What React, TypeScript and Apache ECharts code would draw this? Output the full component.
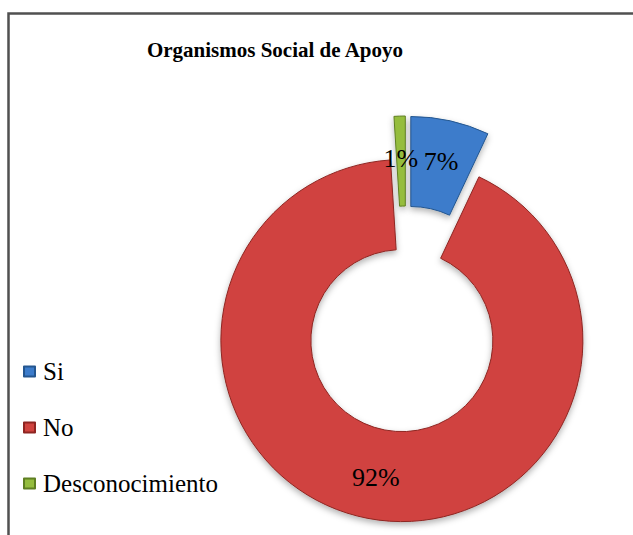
import React, { useEffect, useRef } from "react";
import * as echarts from "echarts";

const titleText = "Organismos Social de Apoyo";
const categories = ["Si", "No", "Desconocimiento"];
const values = [7, 92, 1];
const colors = ["#3C7CCB", "#D0433F", "#95BD3E"];
const borderColors = ["#24568F", "#8E2522", "#5F7F22"];

export default function App() {
  const ref = useRef<HTMLDivElement>(null);
  useEffect(() => {
    if (!ref.current) return;
    const chart = echarts.init(ref.current, null, { renderer: "svg" });
    const serif = "Liberation Serif";
    const data = categories.map((name, i) => {
      const style = {
        color: colors[i],
        borderColor: borderColors[i],
        borderWidth: 1,
        shadowBlur: 6,
        shadowColor: "rgba(0,0,0,0.3)",
        shadowOffsetY: 3,
      };
      return {
        name,
        value: values[i],
        selected: true,
        itemStyle: style,
        select: { itemStyle: style },
      };
    });
    chart.setOption({
      animation: false,
      backgroundColor: "#ffffff",
      textStyle: { fontFamily: serif },
      title: {
        text: titleText,
        left: 275,
        top: 39,
        padding: 0,
        textAlign: "center",
        textStyle: {
          fontFamily: serif,
          fontSize: 21,
          fontWeight: "bold",
          color: "#000",
        },
      },
      legend: {
        orient: "vertical",
        left: 23,
        top: 359,
        padding: 0,
        itemWidth: 11,
        itemHeight: 10,
        itemGap: 31,
        icon: "rect",
        selectedMode: false,
        textStyle: { fontFamily: serif, fontSize: 25, color: "#000", padding: [0, 0, 0, 3] },
        data: categories,
      },
      graphic: [
        {
          type: "rect",
          shape: { x: 8.5, y: 13.5, width: 800, height: 800 },
          style: { fill: "none", stroke: "#505050", lineWidth: 2.5 },
          silent: true,
        },
      ],
      series: [
        {
          type: "pie",
          center: [406, 319],
          radius: [91, 181],
          startAngle: 90,
          clockwise: true,
          selectedMode: "multiple",
          selectedOffset: 22,
          avoidLabelOverlap: false,
          labelLayout: { hideOverlap: false },
          label: {
            show: true,
            position: "inside",
            formatter: "{d}%",
            fontFamily: serif,
            fontSize: 26,
            color: "#000",
          },
          labelLine: { show: false },
          emphasis: { disabled: true },
          data,
        },
      ],
    });
    return () => chart.dispose();
  }, []);
  return (
    <div
      ref={ref}
      style={{ position: "fixed", left: 0, top: 0, width: 633, height: 535 }}
    />
  );
}
